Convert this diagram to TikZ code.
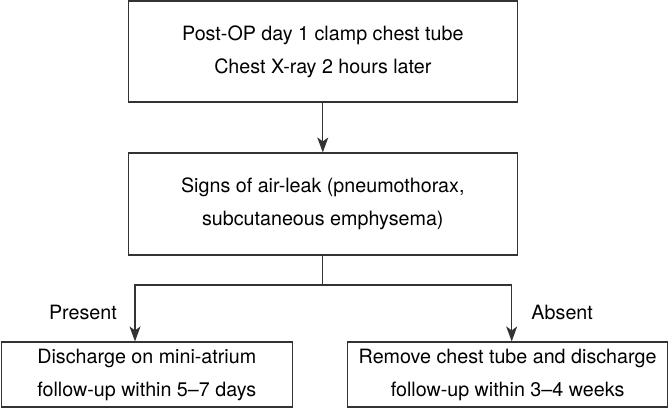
\documentclass[tikz,border=0pt]{standalone}
\usepackage{fontspec}
\setmainfont{TeX Gyre Heros}
\usetikzlibrary{arrows.meta,calc}
\definecolor{linegray}{HTML}{333333}
\tikzset{
  box/.style={draw=linegray, line width=1.2pt, inner sep=0pt, align=center,
    font=\fontsize{19.7pt}{33pt}\selectfont},
  lab/.style={inner sep=0pt, anchor=base, font=\fontsize{19.7pt}{33pt}\selectfont},
  arr/.style={draw=linegray, line width=1.2pt,
    -{Stealth[length=15pt,width=11pt,inset=4pt]}},
  conn/.style={draw=linegray, line width=1.2pt}
}
\begin{document}
\begin{tikzpicture}[x=1pt,y=-1pt]
\useasboundingbox (0,0) rectangle (669,408);
\node[box, minimum width=389pt, minimum height=101pt] (top) at (322.8,51.5)
  {Post-OP day 1 clamp chest tube\\Chest X-ray 2 hours later};
\node[box, minimum width=389pt, minimum height=102pt] (mid) at (322.8,204)
  {Signs of air-leak (pneumothorax,\\subcutaneous emphysema)};
\node[box, minimum width=291pt, minimum height=65pt] (lft) at (146.8,374.5)
  {Discharge on mini-atrium\\follow-up within 5–7 days};
\node[box, minimum width=320.5pt, minimum height=65pt] (rgt) at (507.6,374.5)
  {Remove chest tube and discharge\\follow-up within 3–4 weeks};
\coordinate (bl) at (135,285);
\coordinate (bR) at (511.7,285);
\draw[arr] (top.south) -- (mid.north);
\draw[arr] (mid.south) |- (bl) -- (bl |- lft.north);
\draw[arr] (mid.south) |- (bR) -- (bR |- rgt.north);
\node[lab] (present) at (82.9,319) {Present};
\node[lab] (absent) at (562.2,319) {Absent};
\end{tikzpicture}
\end{document}
